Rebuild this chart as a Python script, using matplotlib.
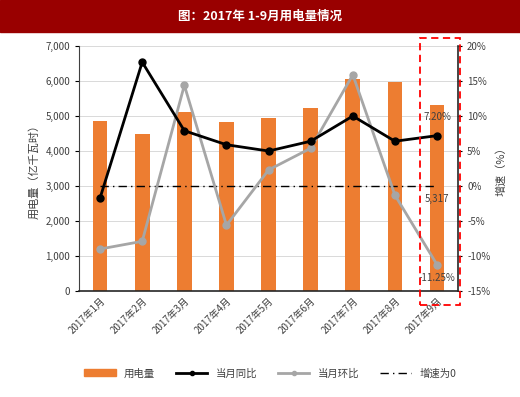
import numpy as np
import matplotlib.pyplot as plt
import matplotlib.patches as mpatches
from matplotlib.lines import Line2D

plt.rcParams['font.family'] = ['Noto Sans CJK SC', 'DejaVu Sans']

months = ['2017年1月', '2017年2月', '2017年3月', '2017年4月', '2017年5月',
          '2017年6月', '2017年7月', '2017年8月', '2017年9月']
usage = [4850, 4490, 5110, 4830, 4950, 5240, 6060, 5980, 5317]
yoy = [-1.7, 17.7, 7.9, 5.9, 5.0, 6.4, 10.0, 6.4, 7.2]
mom = [-9.0, -7.9, 14.4, -5.6, 2.3, 5.4, 15.9, -1.3, -11.25]

fig = plt.figure(figsize=(5.2, 3.97), dpi=100)

# title banner
fig.patches.append(mpatches.Rectangle((0, 0.92), 1, 0.08, transform=fig.transFigure,
                                      color='#990000', zorder=0))
fig.text(0.5, 0.96, '图：2017年 1-9月用电量情况', color='white', ha='center', va='center',
         fontsize=9, fontweight='bold')

ax = fig.add_axes([0.152, 0.267, 0.729, 0.617])
x = np.arange(len(months))
ax.bar(x, usage, width=0.35, color='#ED7D31', zorder=2)
ax.set_ylim(0, 7000)
ax.set_xlim(-0.5, len(months) - 0.5)
ax.set_yticks(range(0, 7001, 1000))
ax.set_yticklabels(['{:,}'.format(v) for v in range(0, 7001, 1000)], fontsize=7, color='#404040')
ax.set_xticks(x)
ax.set_xticklabels(months, rotation=45, ha='right', rotation_mode='anchor', fontsize=7, color='#404040')
ax.tick_params(axis='x', length=0)
ax.tick_params(axis='y', length=3, direction='out')
ax.grid(axis='y', color='#d9d9d9', linewidth=0.7, zorder=0)
ax.set_axisbelow(True)
for s in ['top', 'right']:
    ax.spines[s].set_visible(False)
ax.spines['left'].set_color('#404040')
ax.spines['bottom'].set_color('#262626')
ax.spines['bottom'].set_linewidth(1.2)
ax.set_ylabel('用电量（亿千瓦时）', fontsize=8, color='#404040')

ax2 = ax.twinx()
ax2.set_ylim(-15, 20)
ax2.set_yticks(range(-15, 21, 5))
ax2.set_yticklabels(['{}%'.format(v) for v in range(-15, 21, 5)], fontsize=7, color='#404040')
ax2.tick_params(axis='y', length=3, direction='out')
for s in ['top', 'left', 'bottom']:
    ax2.spines[s].set_visible(False)
ax2.spines['right'].set_color('#262626')
ax2.spines['right'].set_linewidth(1.2)
ax2.set_ylabel('增速（%）', fontsize=8, color='#404040')

ax2.plot(x, [0] * len(x), color='black', linestyle=(0, (6, 3, 1, 3)), linewidth=1, zorder=3)
ax2.plot(x, mom, color='#a6a6a6', linewidth=2, marker='o', markersize=5, zorder=4)
ax2.plot(x, yoy, color='black', linewidth=2, marker='o', markersize=5, zorder=5)

ax2.annotate('7.20%', (x[-1], yoy[-1]), xytext=(0, 10), textcoords='offset points',
             ha='center', va='bottom', fontsize=7, color='#404040')
ax2.annotate('-11.25%', (x[-1], mom[-1]), xytext=(0, -6), textcoords='offset points',
             ha='center', va='top', fontsize=7, color='#404040')
ax.annotate('{:,}'.format(usage[-1]), (x[-1], 0), xytext=(437, 397 - 199),
            textcoords='figure pixels', ha='center', va='center', fontsize=7, color='#404040')

# highlight box around September
fig.patches.append(mpatches.Rectangle((420 / 520, 1 - 305 / 397), 40 / 520, 267 / 397,
                                      transform=fig.transFigure, fill=False,
                                      edgecolor='#ff0000', linestyle=(0, (4, 2.5)),
                                      linewidth=1.3, zorder=10))

handles = [mpatches.Patch(color='#ED7D31'),
           Line2D([], [], color='black', linewidth=2, marker='o', markersize=3),
           Line2D([], [], color='#a6a6a6', linewidth=2, marker='o', markersize=3),
           Line2D([], [], color='black', linestyle=(0, (6, 3, 1, 3)), linewidth=1)]
fig.legend(handles, ['用电量', '当月同比', '当月环比', '增速为0'], loc='center',
           bbox_to_anchor=(0.52, 0.06), ncol=4, frameon=False, fontsize=7.5,
           handlelength=3, columnspacing=2, labelcolor='#404040')

fig.savefig('out.png', dpi=100)
